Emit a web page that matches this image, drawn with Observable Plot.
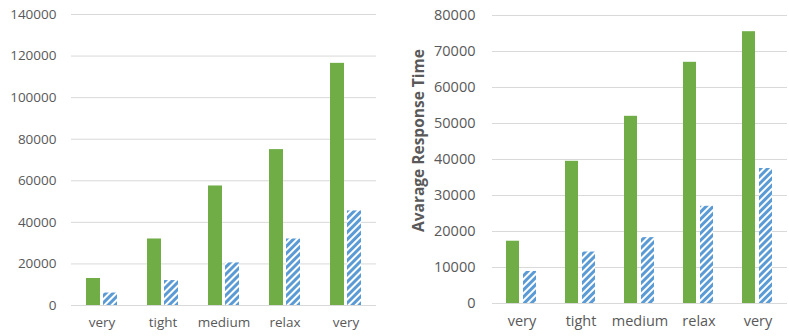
<!DOCTYPE html>
<html>
<head>
<meta charset="utf-8">
<script src="https://cdn.jsdelivr.net/npm/d3@7"></script>
<script src="https://cdn.jsdelivr.net/npm/@observablehq/plot@0.6"></script>
<style>
  html, body { margin: 0; padding: 0; background: #fff; }
  #wrap { display: flex; width: 789px; height: 336px; }
  svg text { fill: #595959; }
</style>
</head>
<body>
<svg width="0" height="0" style="position:absolute">
  <defs>
    <pattern id="hatch" patternUnits="userSpaceOnUse" width="5" height="5" patternTransform="rotate(45)">
      <rect x="0" y="0" width="5" height="5" fill="#ffffff"></rect>
      <rect x="0" y="0" width="3" height="5" fill="#5B9BD5"></rect>
    </pattern>
  </defs>
</svg>
<div id="wrap"></div>
<script>
const categories = ["very", "tight", "medium", "relax", "very"];
const seriesNames = ["A", "B"];
const leftGreen = [13000, 32000, 57500, 75000, 116500];
const leftBlue = [6000, 12000, 20500, 32000, 45500];
const rightGreen = [17300, 39500, 52000, 67000, 75500];
const rightBlue = [8900, 14300, 18300, 27000, 37500];
const leftTicks = [0, 20000, 40000, 60000, 80000, 100000, 120000, 140000];
const rightTicks = [0, 10000, 20000, 30000, 40000, 50000, 60000, 70000, 80000];
const yLabelRight = "Avarage Response Time";

function rows(g, b) {
  const out = [];
  categories.forEach((c, i) => {
    out.push({cat: i, series: seriesNames[0], value: g[i]});
    out.push({cat: i, series: seriesNames[1], value: b[i]});
  });
  return out;
}

function chart(opts) {
  const data = rows(opts.green, opts.blue);
  return Plot.plot({
    width: opts.width,
    height: 336,
    marginLeft: opts.marginLeft,
    marginRight: opts.marginRight,
    marginTop: opts.marginTop,
    marginBottom: opts.marginBottom,
    style: {fontFamily: "Open Sans", fontSize: opts.fontSize + "px", color: "#595959", background: "#fff"},
    fx: {domain: d3.range(categories.length), padding: 0, tickFormat: i => categories[i]},
    x: {domain: seriesNames, paddingInner: opts.pi, paddingOuter: opts.po, axis: null},
    y: {domain: opts.domain, ticks: opts.ticks},
    color: {domain: seriesNames, range: ["#70AD47", "url(#hatch)"]},
    marks: [
      Plot.gridY(opts.ticks, {stroke: "#d9d9d9", strokeOpacity: 1, strokeWidth: 1}),
      Plot.barY(data, {fx: "cat", x: "series", y: "value", fill: "series"}),
      Plot.axisY(opts.ticks, {tickSize: 0, tickPadding: opts.tickPadding, tickFormat: d => String(d), label: opts.label, labelAnchor: "center", labelArrow: "none", labelOffset: opts.labelOffset, fontSize: opts.fontSize}),
      Plot.axisFx({anchor: "bottom", tickSize: 0, tickPadding: 12, label: null, fontSize: opts.fontSize, tickFormat: i => categories[i]})
    ]
  });
}

const left = chart({
  width: 392, marginLeft: 70, marginRight: 15, marginTop: 14, marginBottom: 31,
  green: leftGreen, blue: leftBlue, domain: [0, 140000], ticks: leftTicks,
  pi: 0.2, po: 0.88, tickPadding: 15, fontSize: 13.5, label: null, labelOffset: 0
});
const right = chart({
  width: 397, marginLeft: 98, marginRight: 1, marginTop: 15, marginBottom: 33,
  green: rightGreen, blue: rightBlue, domain: [0, 80000], ticks: rightTicks,
  pi: 0.22, po: 0.8, tickPadding: 17, fontSize: 14.5, label: yLabelRight, labelOffset: 80
});
const wrap = document.getElementById("wrap");
wrap.appendChild(left);
wrap.appendChild(right);
d3.select(right).selectAll("g[aria-label='y-axis label']")
  .style("font-weight", "bold")
  .style("font-size", "15.5px")
  .attr("transform", function() { return (this.getAttribute("transform") || "") + " translate(0,-19)"; });
</script>
</body>
</html>
